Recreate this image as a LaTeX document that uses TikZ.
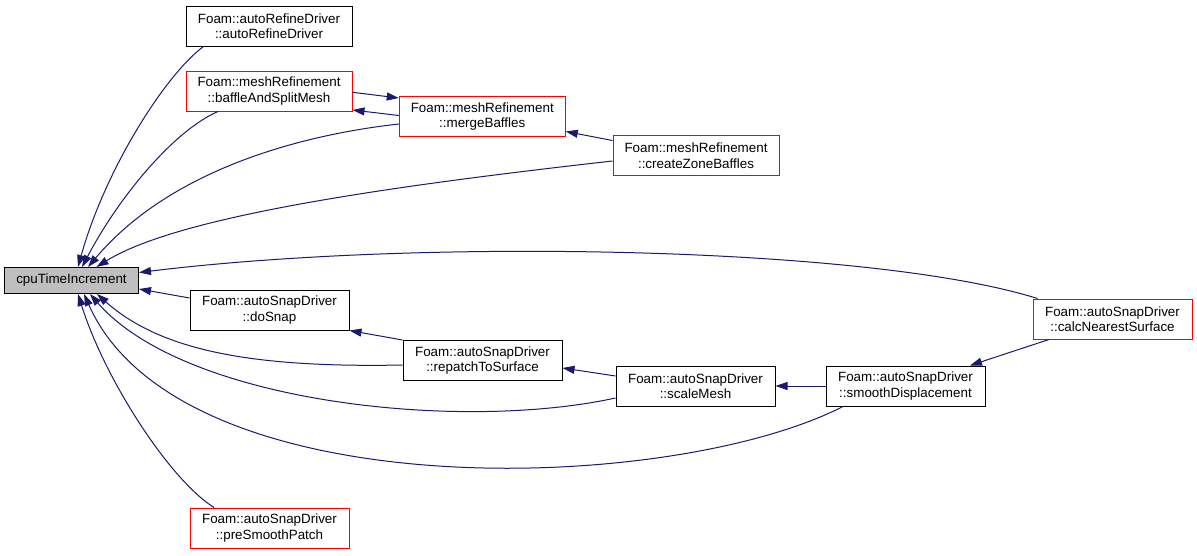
\documentclass[tikz,border=0pt]{standalone}
\usepackage{fontspec}
\setmainfont{Liberation Sans}
\usetikzlibrary{arrows.meta}
\definecolor{edgeblue}{RGB}{25,25,112}
\definecolor{rootgray}{RGB}{191,191,191}
\definecolor{nodered}{RGB}{255,0,0}
\begin{document}
\begin{tikzpicture}[x=1pt,y=-1pt,
  box/.style={draw=black, line width=1pt, minimum width=159pt, minimum height=40pt,
    inner sep=0pt, align=center, font=\fontsize{13.4}{15.5}\selectfont},
  wbox/.style={box, minimum width=166pt},
  redbox/.style={draw=nodered},
  rootbox/.style={box, fill=rootgray, minimum width=134pt, minimum height=26pt},
  edge/.style={draw=edgeblue, line width=1pt, -{Triangle[length=12pt,width=8pt]}}
]
\useasboundingbox (0,0) rectangle (1197,555);
\fill[white] (0,0) rectangle (1197,555);

% nodes
\node[rootbox] (cpu) at (71.5,280.5) {cpuTimeIncrement};
\node[wbox] (autoref) at (269,26) {Foam::autoRefineDriver\\::autoRefineDriver};
\node[wbox,redbox] (baffle) at (269,91) {Foam::meshRefinement\\::baffleAndSplitMesh};
\node[wbox,redbox] (merge) at (482.25,116.5) {Foam::meshRefinement\\::mergeBaffles};
\node[wbox,redbox] (czone) at (696,155.5) {Foam::meshRefinement\\::createZoneBaffles};
\node[box] (dosnap) at (269.5,310) {Foam::autoSnapDriver\\::doSnap};
\node[box] (repatch) at (482.5,360.5) {Foam::autoSnapDriver\\::repatchToSurface};
\node[box,redbox] (presmooth) at (269.5,528) {Foam::autoSnapDriver\\::preSmoothPatch};
\node[box] (scale) at (695.5,386) {Foam::autoSnapDriver\\::scaleMesh};
\node[box] (smooth) at (905.5,386) {Foam::autoSnapDriver\\::smoothDisplacement};
\node[box,redbox] (calc) at (1112.5,319) {Foam::autoSnapDriver\\::calcNearestSurface};

% edges into cpuTimeIncrement (top)
\draw[edge] ([xshift=-65.5pt]autoref.south) .. controls (165,75) and (105,170) .. ([xshift=6.5pt]cpu.north);
\draw[edge] ([xshift=-51pt]baffle.south) .. controls (175,130) and (120,195) .. ([xshift=10.5pt]cpu.north);
\draw[edge] ([yshift=-7.5pt]merge.west) .. controls (300,135) and (170,170) .. ([xshift=16.5pt]cpu.north);
\draw[edge] ([yshift=-5.5pt]czone.west) .. controls (400,185) and (180,215) .. ([xshift=25pt]cpu.north);
% edges into cpuTimeIncrement (right)
\draw[edge] ([xshift=5pt]calc.north west) .. controls (870,246) and (420,238) .. ([yshift=8pt]cpu.east);
\draw[edge] ([yshift=12pt]dosnap.west) -- ([yshift=-8.5pt]cpu.east);
% edges into cpuTimeIncrement (bottom)
\draw[edge] ([yshift=-4.5pt]repatch.west) .. controls (250,368) and (160,350) .. ([xshift=25.5pt]cpu.south);
\draw[edge] ([yshift=-12pt]scale.west) .. controls (460,432) and (185,403) .. ([xshift=18.5pt]cpu.south);
\draw[edge] ([xshift=-62.5pt]smooth.south) .. controls (670,495) and (180,510) .. ([xshift=12.5pt]cpu.south);
\draw[edge] ([xshift=-55.5pt]presmooth.north) .. controls (170,480) and (105,380) .. ([xshift=6.5pt]cpu.south);

% other edges
\draw[edge] ([yshift=-1.3pt]baffle.east) -- ([yshift=-2pt]merge.north west);
\draw[edge] ([yshift=1pt]merge.west) -- ([yshift=1.5pt]baffle.south east);
\draw[edge] ([yshift=-5.5pt]czone.north west) -- ([yshift=5.5pt]merge.south east);
\draw[edge] (repatch.north west) -- (dosnap.south east);
\draw[edge] ([yshift=10pt]scale.west) -- ([yshift=-7.5pt]repatch.east);
\draw[edge] (smooth.west) -- (scale.east);
\draw[edge] ([xshift=-63.5pt]calc.south) -- ([xshift=64.5pt]smooth.north);
\end{tikzpicture}
\end{document}
